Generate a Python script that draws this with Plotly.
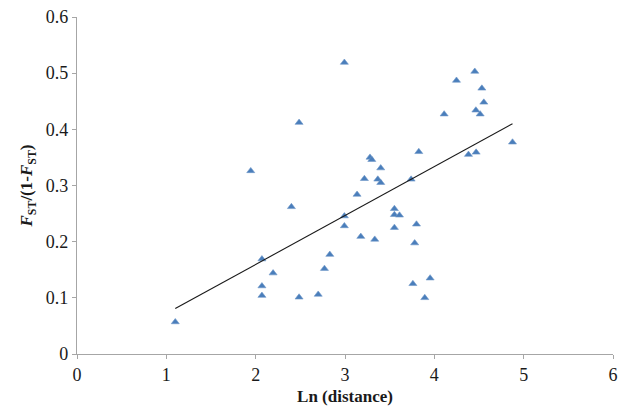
import plotly.graph_objects as go

ln_distance = [1.10, 2.07, 2.07, 2.07, 2.195, 2.40, 2.486, 2.70, 1.945, 2.486,
               2.993, 4.453, 4.248, 4.532, 4.554, 4.465, 4.513, 4.11, 4.875, 4.382,
               4.468, 3.826, 3.28, 3.30, 3.40, 3.217, 3.367, 3.40, 3.74, 3.135,
               3.553, 3.553, 3.61, 2.993, 2.993, 3.80, 3.553, 3.177, 3.333, 3.78,
               2.83, 2.77, 3.953, 3.76, 3.893]
fst_ratio = [0.057, 0.169, 0.121, 0.104, 0.144, 0.262, 0.101, 0.106, 0.326, 0.412,
             0.519, 0.503, 0.487, 0.473, 0.448, 0.434, 0.427, 0.427, 0.377, 0.355,
             0.359, 0.360, 0.350, 0.346, 0.331, 0.312, 0.311, 0.305, 0.311, 0.284,
             0.2586, 0.248, 0.247, 0.2456, 0.228, 0.231, 0.225, 0.209, 0.204, 0.1975,
             0.177, 0.152, 0.135, 0.125, 0.100]
trend_x = [1.10, 4.875]
trend_y = [0.081, 0.410]

x_ticks = [0, 1, 2, 3, 4, 5, 6]
y_ticks = [0, 0.1, 0.2, 0.3, 0.4, 0.5, 0.6]
y_tick_labels = ["0", "0.1", "0.2", "0.3", "0.4", "0.5", "0.6"]

font_family = "Liberation Serif"

fig = go.Figure()
fig.add_trace(go.Scatter(
    x=ln_distance, y=fst_ratio, mode="markers",
    marker=dict(symbol="triangle-up", size=7, color="#4a7ebb",
                line=dict(width=0.6, color="#6f97c8")),
    showlegend=False, hoverinfo="x+y"))
fig.add_trace(go.Scatter(
    x=trend_x, y=trend_y, mode="lines",
    line=dict(color="#1a1a1a", width=1.1),
    showlegend=False, hoverinfo="skip"))

axis_common = dict(showgrid=False, zeroline=False, showline=True,
                   linecolor="#a6a6a6", linewidth=1.3, automargin=False,
                   ticks="outside", ticklen=4, tickcolor="#a6a6a6", tickwidth=1,
                   tickfont=dict(family=font_family, size=18, color="#1a1a1a"))

fig.update_layout(
    width=630, height=408,
    margin=dict(l=77, r=17, t=17, b=54),
    paper_bgcolor="white", plot_bgcolor="white",
    font=dict(family=font_family, color="#1a1a1a"),
    xaxis=dict(range=[0, 6], tickvals=x_ticks,
               title=dict(text="<b>Ln (distance)</b>", font=dict(family=font_family, size=17),
                          standoff=6),
               **axis_common),
    yaxis=dict(range=[0, 0.6], tickvals=y_ticks, ticktext=y_tick_labels,
               title=dict(text="<b><i>F</i><sub>ST</sub>/(1-<i>F</i><sub>ST</sub>)</b>",
                          font=dict(family=font_family, size=17), standoff=8),
               **axis_common),
)

fig.write_html("out.html", config={"displayModeBar": False},
               post_script="document.body.style.margin='0px';document.body.style.overflow='hidden';")
